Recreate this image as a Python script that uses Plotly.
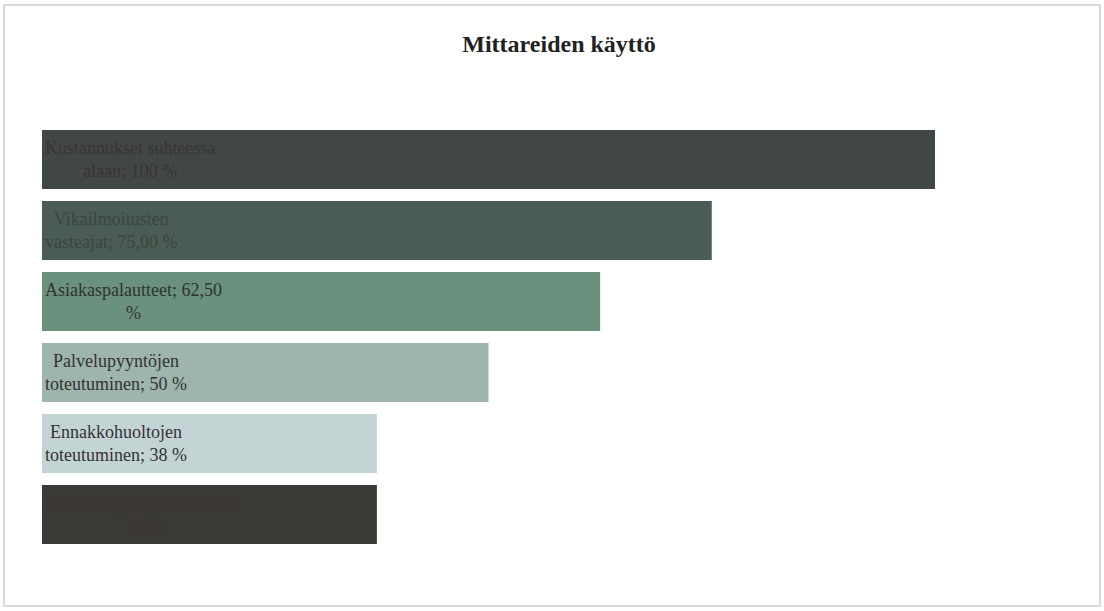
import plotly.graph_objects as go

categories = [
    "Kustannukset suhteessa alaan",
    "Vikailmoitusten vasteajat",
    "Asiakaspalautteet",
    "Palvelupyyntöjen toteutuminen",
    "Ennakkohuoltojen toteutuminen",
    "Kunnossapitosuunnitelmat",
]
values = [100, 75, 62.5, 50, 37.5, 37.5]
labels = [
    "Kustannukset suhteessa<br>alaan; 100 %",
    "Vikailmoitusten<br>vasteajat; 75,00 %",
    "Asiakaspalautteet; 62,50<br>%",
    "Palvelupyyntöjen<br>toteutuminen; 50 %",
    "Ennakkohuoltojen<br>toteutuminen; 38 %",
    "Kunnossapitosuunnitelmat;<br>38 %",
]
colors = ["#414745", "#4a5c54", "#6a917e", "#9db5ad", "#c4d4d5", "#3a3936"]
text_colors = ["#3b3434", "#3c4540", "#2e3430", "#333333", "#333333", "#3e3434"]

fig = go.Figure(go.Bar(
    x=values,
    y=categories,
    orientation="h",
    marker=dict(color=colors, line=dict(width=0)),
    text=labels,
    textposition="inside",
    insidetextanchor="start",
    textangle=0,
    constraintext="none",
    textfont=dict(family="Liberation Serif, Times New Roman, serif", size=18, color=text_colors),
    hoverinfo="skip",
))

fig.update_layout(
    width=1104, height=611,
    margin=dict(l=42, r=169, t=124, b=61),
    paper_bgcolor="#ffffff",
    plot_bgcolor="#ffffff",
    bargap=0.17,
    showlegend=False,
    title=dict(
        text="<b>Mittareiden käyttö</b>",
        x=0.579, xref="paper", xanchor="center",
        y=0.928, yref="container", yanchor="middle",
        font=dict(family="Liberation Serif, Times New Roman, serif", size=24, color="#222222"),
    ),
    xaxis=dict(range=[0, 100], visible=False, fixedrange=True),
    yaxis=dict(autorange="reversed", visible=False, fixedrange=True),
    shapes=[dict(
        type="rect", xref="paper", yref="paper",
        x0=(4 - 42) / 893, x1=(1100 - 42) / 893,
        y0=(550 - 606) / 426, y1=(550 - 5) / 426,
        line=dict(color="#b5b5b5", width=1), fillcolor="rgba(0,0,0,0)",
        layer="below",
    )],
)

fig.write_html("out.html")
